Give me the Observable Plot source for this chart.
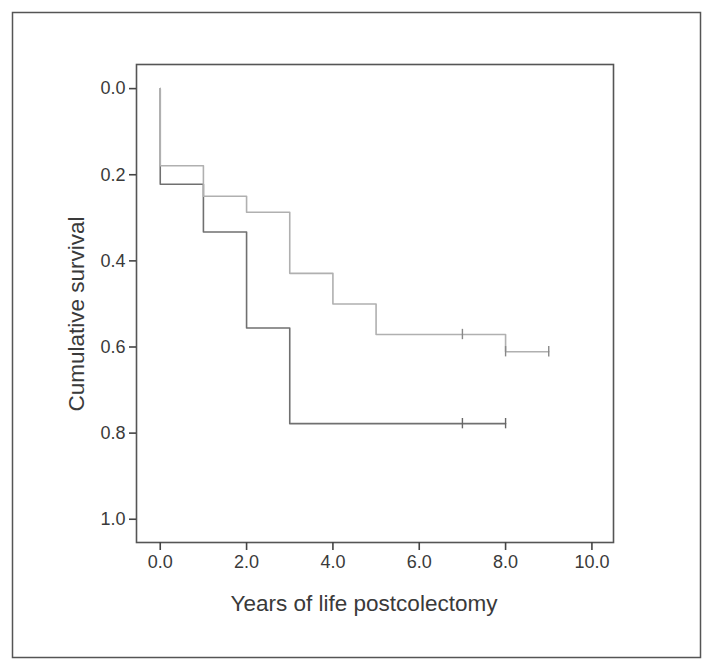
<!DOCTYPE html>
<html>
<head>
<meta charset="utf-8">
<script src="https://cdn.jsdelivr.net/npm/d3@7"></script>
<script src="https://cdn.jsdelivr.net/npm/@observablehq/plot@0.6"></script>
<style>
  html, body { margin: 0; padding: 0; background: #fff; }
  #chart { width: 704px; height: 671px; }
  svg { font-family: "Liberation Sans", Arial, sans-serif; }
  g[aria-label$="tick label"] text { font-size: 18px; }
</style>
</head>
<body>
<div id="chart"></div>
<script>
// Group 1 (light gray curve)
const lightTimes = [0, 0, 1, 2, 3, 4, 5, 8, 9];
const lightSurv  = [0, 0.179, 0.25, 0.287, 0.429, 0.5, 0.571, 0.611, 0.611];
const lightCensorTimes = [7, 8, 9];
const lightCensorSurv  = [0.571, 0.611, 0.611];

// Group 2 (dark gray curve)
const darkTimes = [0, 0, 1, 2, 3, 8];
const darkSurv  = [0, 0.222, 0.333, 0.556, 0.778, 0.778];
const darkCensorTimes = [7, 8];
const darkCensorSurv  = [0.778, 0.778];

const xTicks = [0, 2, 4, 6, 8, 10];
const yTicks = [0, 0.2, 0.4, 0.6, 0.8, 1.0];
const xLabel = "Years of life postcolectomy";
const yLabel = "Cumulative survival";

const light = lightTimes.map((t, i) => ({t, s: lightSurv[i]}));
const dark = darkTimes.map((t, i) => ({t, s: darkSurv[i]}));
const lightC = lightCensorTimes.map((t, i) => ({t, s: lightCensorSurv[i]}));
const darkC = darkCensorTimes.map((t, i) => ({t, s: darkCensorSurv[i]}));

const W = 704, H = 671;
const mL = 136, mR = 91, mT = 64, mB = 129;
const fmt = d3.format(".1f");

const plot = Plot.plot({
  width: W,
  height: H,
  marginLeft: mL,
  marginRight: mR,
  marginTop: mT,
  marginBottom: mB,
  style: {color: "#3a3a3a", background: "#fff"},
  x: {domain: [-0.55, 10.5], label: null},
  y: {domain: [-0.056, 1.054], reverse: true, label: null},
  marks: [
    Plot.line(dark, {x: "t", y: "s", curve: "step-after", stroke: "#707070", strokeWidth: 1.6}),
    Plot.line(light, {x: "t", y: "s", curve: "step-after", stroke: "#b0b0b0", strokeWidth: 1.6}),
    Plot.ruleX(lightC, {x: "t", y1: d => d.s - 0.012, y2: d => d.s + 0.012, stroke: "#888", strokeWidth: 1.4}),
    Plot.ruleX(darkC, {x: "t", y1: d => d.s - 0.012, y2: d => d.s + 0.012, stroke: "#666", strokeWidth: 1.4}),
    Plot.frame({stroke: "#555", strokeWidth: 1.6}),
    Plot.axisX({ticks: xTicks, tickFormat: fmt, tickSize: 8, tickPadding: 5, stroke: "#444", strokeWidth: 1.6, fontSize: 18, label: null}),
    Plot.axisY({ticks: yTicks, tickFormat: fmt, tickSize: 7, tickPadding: 4, stroke: "#444", strokeWidth: 1.6, fontSize: 18, label: null})
  ]
});

const svg = d3.select(plot);
// outer border
svg.insert("rect", ":first-child")
  .attr("x", 12.5).attr("y", 12.5).attr("width", 688).attr("height", 645)
  .attr("fill", "none").attr("stroke", "#555").attr("stroke-width", 1.5);

svg.append("text")
  .attr("x", 364).attr("y", 611)
  .attr("text-anchor", "middle")
  .attr("fill", "#3a3a3a")
  .style("font-size", "22.5px")
  .text(xLabel);
svg.append("text")
  .attr("transform", `translate(84,314) rotate(-90)`)
  .attr("text-anchor", "middle")
  .attr("fill", "#3a3a3a")
  .style("font-size", "22.5px")
  .text(yLabel);

document.getElementById("chart").appendChild(plot);
</script>
</body>
</html>
